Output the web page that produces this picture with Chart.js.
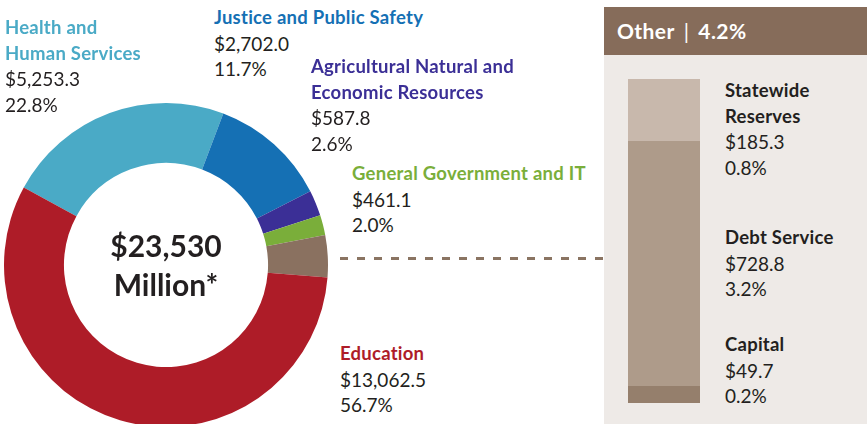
<!DOCTYPE html>
<html>
<head>
<meta charset="utf-8">
<script src="https://cdn.jsdelivr.net/npm/chart.js@4/dist/chart.umd.min.js"></script>
<style>
  html, body { margin:0; padding:0; width:867px; height:424px; overflow:hidden; background:#fff; font-family: Lato, "Open Sans", sans-serif; }
  #donutBox { position:absolute; left:4px; top:103px; width:324px; height:324px; }
  #panel { position:absolute; left:604px; top:55px; width:263px; height:369px; background:#eeeae7; }
  #header { position:absolute; left:604px; top:7px; width:263px; height:48px; background:#866c5a; color:#fff; font-weight:700; font-size:21px; letter-spacing:0.4px; line-height:48px; box-sizing:border-box; padding-left:13px; }
  #header .sep { font-weight:400; margin:0 9px; color:#fff; }
  #barBox { position:absolute; left:628px; top:79px; width:72px; height:324px; }
  #dash { position:absolute; left:340px; top:257px; width:264px; height:3px;
          background: repeating-linear-gradient(to right, #8a7462 0 8px, transparent 8px 17px); }
  .lbl { position:absolute; font-size:19px; line-height:25.5px; color:#231f20; white-space:nowrap; }
  .lbl b { font-weight:700; font-size:18.5px; letter-spacing:0.25px; display:block; }
  .lbl span { display:block; }
  .center { position:absolute; left:66px; width:200px; text-align:center; font-weight:700; color:#231f20; font-size:30px; }
</style>
</head>
<body>
<div id="dash"></div>
<div id="donutBox"><canvas id="donut"></canvas></div>
<div class="center" style="top:227px;">$23,530</div>
<div class="center" style="top:266px;">Million*</div>
<div id="panel"></div>
<div id="header"></div>
<div id="barBox"><canvas id="bar"></canvas></div>
<div id="labels"></div>
<script>
// ---- data ----
const categories = ["Health and Human Services", "Justice and Public Safety", "Agricultural Natural and Economic Resources", "General Government and IT", "Other", "Education"];
const categoryLines = [["Health and", "Human Services"], ["Justice and Public Safety"], ["Agricultural Natural and", "Economic Resources"], ["General Government and IT"], ["Other"], ["Education"]];
const values = [5253.3, 2702.0, 587.8, 461.1, 963.8, 13062.5];
const valueLabels = ["$5,253.3", "$2,702.0", "$587.8", "$461.1", "", "$13,062.5"];
const percentLabels = ["22.8%", "11.7%", "2.6%", "2.0%", "4.2%", "56.7%"];

const otherCategories = ["Capital", "Debt Service", "Statewide Reserves"];
const otherLines = [["Capital"], ["Debt Service"], ["Statewide", "Reserves"]];
const otherValues = [49.7, 728.8, 185.3];
const otherValueLabels = ["$49.7", "$728.8", "$185.3"];
const otherPercentLabels = ["0.2%", "3.2%", "0.8%"];

const totalLabel = "$23,530";
const totalUnit = "Million*";

// ---- styles / layout ----
const colors = ["#4aaac6", "#1570b4", "#3b2f96", "#7aae3a", "#8a7160", "#ae1c28"];
const otherColors = ["#957f6c", "#ae9b8a", "#c8b8ac"];
const labelPos = [[5, 15], [214, 5], [311, 54], [352, 161], null, [340, 341]];
const otherLabelPos = [[725, 332], [725, 225], [725, 78]];

// labels
const lc = document.getElementById('labels');
function addLabel(x, y, lines, val, pct, color) {
  const d = document.createElement('div');
  d.className = 'lbl';
  d.style.left = x + 'px'; d.style.top = y + 'px';
  lines.forEach(t => { const b = document.createElement('b'); b.textContent = t; b.style.color = color; d.appendChild(b); });
  [val, pct].forEach(t => { const s = document.createElement('span'); s.textContent = t; d.appendChild(s); });
  lc.appendChild(d);
}
categories.forEach((c, i) => { if (labelPos[i]) addLabel(labelPos[i][0], labelPos[i][1], categoryLines[i], valueLabels[i], percentLabels[i], colors[i]); });
otherCategories.forEach((c, i) => addLabel(otherLabelPos[i][0], otherLabelPos[i][1], otherLines[i], otherValueLabels[i], otherPercentLabels[i], '#231f20'));
document.querySelectorAll('.center')[0].textContent = totalLabel;
document.querySelectorAll('.center')[1].textContent = totalUnit;
const hdr = document.getElementById('header');
hdr.innerHTML = '';
hdr.appendChild(document.createTextNode(categories[4]));
const sep = document.createElement('span'); sep.className = 'sep'; sep.textContent = '|'; hdr.appendChild(sep);
hdr.appendChild(document.createTextNode(percentLabels[4]));

new Chart(document.getElementById('donut'), {
  type: 'doughnut',
  data: { labels: categories, datasets: [{ data: values, backgroundColor: colors, borderWidth: 0 }] },
  options: {
    responsive: true, maintainAspectRatio: false, animation: false,
    cutout: '63%', rotation: -61.4,
    layout: { padding: 0 },
    plugins: { legend: { display: false }, tooltip: { enabled: false } }
  }
});

new Chart(document.getElementById('bar'), {
  type: 'bar',
  data: {
    labels: ['Other'],
    datasets: otherCategories.map((c, i) => ({ label: c, data: [otherValues[i]], backgroundColor: otherColors[i], borderWidth: 0, barPercentage: 1, categoryPercentage: 1 }))
  },
  options: {
    responsive: true, maintainAspectRatio: false, animation: false,
    layout: { padding: 0 },
    scales: {
      x: { stacked: true, display: false },
      y: { stacked: true, display: false, min: 0, max: otherValues.reduce((a, b) => a + b, 0) }
    },
    plugins: { legend: { display: false }, tooltip: { enabled: false } }
  }
});
</script>
</body>
</html>
